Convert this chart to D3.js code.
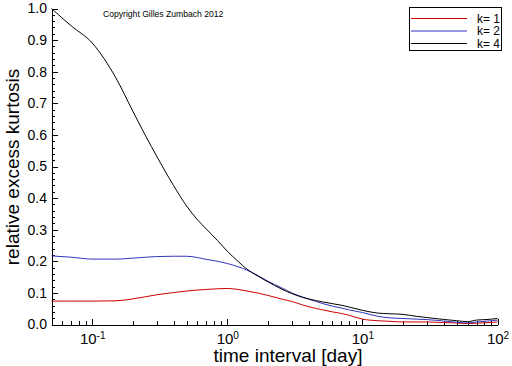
<!DOCTYPE html>
<html>
<head>
<meta charset="utf-8">
<script src="https://cdn.jsdelivr.net/npm/d3@7"></script>
<style>
  html, body { margin: 0; padding: 0; background: #fff; }
  svg { display: block; font-family: "Liberation Sans", Arial, sans-serif; }
  .axis path, .axis line { stroke: #000; shape-rendering: crispEdges; }
  .axis text { fill: #000; font-size: 14px; font-family: "Liberation Sans", Arial, sans-serif; }
</style>
</head>
<body>
<svg id="chart" width="512" height="366"></svg>
<script>
'use strict';

/* time interval in days */
const times = [0.05, 0.07, 0.1, 0.15, 0.2, 0.25, 0.3, 0.4, 0.5, 0.6, 0.7, 0.85, 1, 1.2, 1.4, 1.7, 2, 2.5,
               3, 3.6, 4.5, 5, 6, 7, 8, 10, 13, 16, 20, 25, 30, 40, 50, 60, 70, 85, 100];

const k1 = [0.074, 0.074, 0.074, 0.075, 0.081, 0.088, 0.094, 0.101, 0.106, 0.109, 0.111, 0.113, 0.114, 0.111,
            0.106, 0.099, 0.092, 0.081, 0.073, 0.062, 0.051, 0.047, 0.040, 0.035, 0.029, 0.017, 0.012, 0.010,
            0.008, 0.008, 0.008, 0.006, 0.005, 0.003, 0.004, 0.006, 0.008];

const k2 = [0.217, 0.213, 0.207, 0.207, 0.210, 0.213, 0.215, 0.216, 0.216, 0.212, 0.206, 0.200, 0.193, 0.183,
            0.172, 0.154, 0.137, 0.117, 0.100, 0.087, 0.073, 0.067, 0.058, 0.052, 0.046, 0.038, 0.026, 0.021,
            0.019, 0.017, 0.0155, 0.011, 0.007, 0.005, 0.008, 0.011, 0.014];

const k4 = [1.0, 0.945, 0.891, 0.78, 0.675, 0.595, 0.533, 0.44, 0.375, 0.332, 0.302, 0.265, 0.232, 0.20,
            0.175, 0.152, 0.135, 0.113, 0.098, 0.086, 0.076, 0.072, 0.066, 0.061, 0.055, 0.045, 0.036, 0.034,
            0.032, 0.026, 0.022, 0.016, 0.012, 0.009, 0.014, 0.016, 0.019];

const seriesNames  = ['k= 1', 'k= 2', 'k= 4'];
const seriesColors = ['#cc0000', '#3333bb', '#000000'];
const yMajor = d3.range(0, 1.0001, 0.1);
const yMinor = d3.range(0, 1.0001, 0.02).filter(v => Math.abs(v * 10 - Math.round(v * 10)) > 1e-6);
const xMajor = [0.1, 1, 10, 100];
const xExp   = ['-1', '0', '1', '2'];
const xMinor = [0.06, 0.07, 0.08, 0.09]
  .concat(d3.range(2, 10).map(m => m * 0.1), d3.range(2, 10), d3.range(2, 10).map(m => m * 10));

const svg = d3.select('#chart');

const x = d3.scaleLog().domain([0.05, 100]).range([51.5, 497.5]);
const y = d3.scaleLinear().domain([0, 1]).range([324.5, 8.5]);

/* axes: ticks point into the plot */
svg.append('g').attr('class', 'axis').attr('transform', 'translate(51.5,0)')
  .call(d3.axisLeft(y).tickValues(yMinor).tickSize(-3).tickSizeOuter(0).tickFormat(''));
svg.append('g').attr('class', 'axis').attr('transform', 'translate(51.5,0)')
  .call(d3.axisLeft(y).tickValues(yMajor).tickSize(-6).tickSizeOuter(0).tickPadding(4.5)
    .tickFormat(d3.format('.1f')));

svg.append('g').attr('class', 'axis').attr('transform', 'translate(0,324.5)')
  .call(d3.axisBottom(x).tickValues(xMinor).tickSize(-4).tickSizeOuter(0).tickFormat(''));
const xAx = svg.append('g').attr('class', 'axis').attr('transform', 'translate(0,324.5)')
  .call(d3.axisBottom(x).tickValues(xMajor).tickSize(-6).tickSizeOuter(0).tickPadding(8.5).tickFormat(''));

xAx.selectAll('.tick text').each(function (d, i) {
  const t = d3.select(this).style('font-size', '15px');
  t.append('tspan').text('10');
  t.append('tspan').attr('dy', '-0.45em').style('font-size', '10px').text(xExp[i]);
});

/* series */
const line = d3.line().curve(d3.curveMonotoneX).x(d => x(d[0])).y(d => y(d[1]));
[k1, k2, k4].forEach((vals, i) => {
  svg.append('path')
    .datum(times.map((t, j) => [t, vals[j]]))
    .attr('fill', 'none')
    .attr('stroke', seriesColors[i])
    .attr('stroke-width', 1)
    .attr('d', line);
});

/* axis titles */
svg.append('text')
  .attr('x', 288).attr('y', 362)
  .attr('text-anchor', 'middle')
  .style('font-size', '19px')
  .text('time interval [day]');

svg.append('text')
  .attr('transform', 'translate(18.5,167) rotate(-90)')
  .attr('text-anchor', 'middle')
  .style('font-size', '19px')
  .text('relative excess kurtosis');

svg.append('text')
  .attr('x', 103).attr('y', 17)
  .style('font-size', '8.6px')
  .text('Copyright Gilles Zumbach 2012');

/* legend */
const lg = svg.append('g');
lg.append('rect')
  .attr('x', 409.5).attr('y', 7.5).attr('width', 92).attr('height', 43)
  .attr('fill', '#fff').attr('stroke', '#000').attr('stroke-width', 1);
seriesNames.forEach((name, i) => {
  const yy = 18.5 + i * 12.5;
  lg.append('line')
    .attr('x1', 411).attr('x2', 467).attr('y1', yy).attr('y2', yy)
    .attr('stroke', seriesColors[i]).attr('stroke-width', 1);
  lg.append('text')
    .attr('x', 500).attr('y', yy + 4)
    .attr('text-anchor', 'end')
    .style('font-size', '12px')
    .text(name);
});
</script>
</body>
</html>
